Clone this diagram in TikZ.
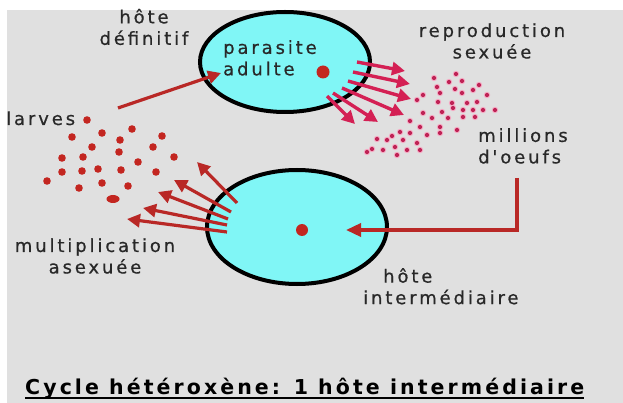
\documentclass[tikz,border=0pt]{standalone}
\usepackage{fontspec}
\usetikzlibrary{arrows.meta}
\newfontfamily\lblfont[LetterSpace=16,FakeBold=0.6]{DejaVu Sans}
\newfontfamily\titlefont[LetterSpace=15]{DejaVu Sans Bold}
\definecolor{bggray}{RGB}{224,224,224}
\definecolor{cellcyan}{RGB}{128,246,246}
\definecolor{dotred}{RGB}{195,38,32}
\definecolor{arrred}{RGB}{185,40,38}
\definecolor{crimson}{RGB}{212,32,84}
\definecolor{eggcol}{RGB}{190,35,85}
\definecolor{eggglow}{RGB}{245,170,195}
\definecolor{txtgray}{RGB}{40,40,40}
\begin{document}
\begin{tikzpicture}[x=1pt,y=-1pt,
  lbl/.style={inner sep=0pt,text=txtgray,font=\lblfont\fontsize{18}{21.5}\selectfont},
  host/.style={draw=black,line width=4pt,fill=cellcyan},
  redarrow/.style={draw=arrred,line width=3.2pt,-{Triangle[length=13pt,width=13pt]}},
  pinkarrow/.style={draw=crimson,line width=3.4pt,-{Triangle[length=13pt,width=13pt]}},
  larrow/.style={draw=arrred,line width=3.4pt,-{Triangle[length=15pt,width=13pt]}}
]
\useasboundingbox (0,0) rectangle (623,403);
\fill[white] (0,0) rectangle (623,403);
\fill[bggray] (7,10) rectangle (623,403);

% host circles
\begin{scope}
\clip (7,10) rectangle (623,403);
\draw[host] (285,62) ellipse [x radius=85, y radius=50];
\end{scope}
\draw[host] (297,227) ellipse [x radius=90, y radius=57];

% parasites
\fill[dotred] (323,72) circle (6.5);
\fill[dotred] (302,230) circle (6);

% larvae
\foreach \x/\y in {87/120,72/137,102/133,132/129,162/136,120/140,92/147,153/147,119/152,
  62/158,83/157,138/162,174/157,62/172,82/171,98/169,121/170,156/172,47/181,79/188,102/183,128/186}
  \fill[dotred] (\x,\y) circle (3.8);
\fill[dotred] (113,199) ellipse [x radius=6.5, y radius=4];

% eggs
\foreach \x/\y in {456/74,434/78,449/82,462/81,479/85,437/87,455/89,473/90,423/95,440/93,462/93,487/95,
  417/100,438/102,452/103,467/103,477/102,423/113,442/112,453/108,463/110,473/110,483/110,495/110,
  410/121,432/118,448/118,463/117,475/117,420/127,440/127,457/130,400/132,410/133,427/135,440/133,
  392/136,377/139,387/140,403/140,417/143,372/149,383/150,395/147,407/150,420/150,367/152,397/155}
  {\fill[eggglow] (\x,\y) circle (3.2);
   \fill[eggcol] (\x,\y) circle (2.1);}

% larvae -> definitive host
\coordinate (la1) at (118,108);
\coordinate (la2) at (221,73);
\draw[redarrow] (la1) -- (la2);

% sexual reproduction arrows
\foreach \i/\ax/\ay/\bx/\by in {1/357/62/405/71,2/353/72/410/84,3/348/81/411/99,4/342/88/404/115,5/333/93/378/122,6/327/96/355/124}{
  \coordinate (ps\i) at (\ax,\ay);
  \coordinate (pe\i) at (\bx,\by);
  \draw[pinkarrow] (ps\i) -- (pe\i);
}

% asexual multiplication arrows
\foreach \i/\ax/\ay/\bx/\by in {1/237/203/197/162,2/231/212/174/180,3/228/219/158/192,4/227/225/143/208,5/227/232/127/219}{
  \coordinate (ms\i) at (\ax,\ay);
  \coordinate (me\i) at (\bx,\by);
  \draw[redarrow] (ms\i) -- (me\i);
}

% eggs -> intermediate host
\coordinate (eg1) at (517,178);
\coordinate (eg2) at (517,230);
\coordinate (eg3) at (346,230);
\draw[larrow] (eg1) -- (eg2) -- (eg3);

% labels
\node[lbl,align=center] (hdef) at (144,27) {hôte\\définitif};
\node[lbl,align=left,anchor=north west] (padu) at (223,40) {parasite\\adulte};
\node[lbl,align=center] (repro) at (492,41) {reproduction\\sexuée};
\node[lbl,align=left,anchor=north west] (oeufs) at (478,128) {millions\\d'oeufs};
\node[lbl,anchor=base west] (larv) at (6,125) {larves};
\node[lbl,align=center] (mult) at (95,256) {multiplication\\asexuée};
\node[lbl,align=left,anchor=north west] (hint) at (363,268) {\hspace*{20pt}hôte\\intermédiaire};

% title
\node[inner sep=0pt,anchor=base west,text=black,font=\titlefont\fontsize{20.5}{24}\selectfont] (title) at (25,394) {Cycle hétéroxène: 1 hôte intermédiaire};
\draw[black,line width=1.3pt] ([yshift=-4pt]title.base west) -- ([yshift=-4pt]title.base east);
\end{tikzpicture}
\end{document}
